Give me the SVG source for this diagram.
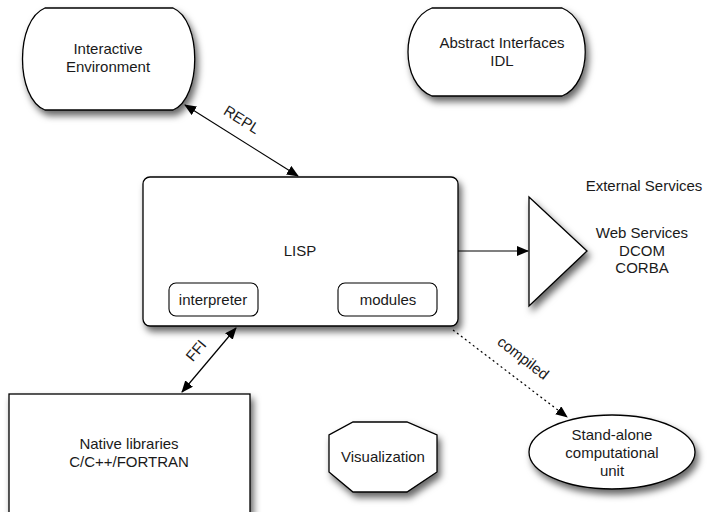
<svg xmlns="http://www.w3.org/2000/svg" width="710" height="512" viewBox="0 0 710 512">
<defs>
<filter id="sh" x="-20%" y="-20%" width="150%" height="150%">
<feDropShadow dx="3" dy="5" stdDeviation="3.5" flood-color="#000" flood-opacity="0.6"/>
</filter>
<marker id="ah" viewBox="0 0 12 10" refX="11" refY="5" markerWidth="12" markerHeight="10" markerUnits="userSpaceOnUse" orient="auto-start-reverse">
<path d="M0,0 L12,5 L0,10 Z" fill="#000"/>
</marker>
<style>
.s{fill:#fff;stroke:#000;stroke-width:1.3;filter:url(#sh)}
.n{fill:#fff;stroke:#000;stroke-width:1.1}
.t{font-family:"Liberation Sans",Arial,sans-serif;font-size:15px;fill:#1a1a1a;text-anchor:middle}
.c{fill:none;stroke:#000;stroke-width:1.2}
</style>
</defs>
<g id="interactive">
<path class="s" d="M45,8 H173 C202,20 202,98 173,110 H45 C15,98 15,20 45,8 Z"/>
<text class="t" x="108" y="54">Interactive</text>
<text class="t" x="108" y="72">Environment</text>
</g>
<g id="abstract">
<path class="s" d="M432,8 H562 C593,20 593,84 562,96 H432 C400,84 400,20 432,8 Z"/>
<text class="t" x="502" y="48">Abstract Interfaces</text>
<text class="t" x="502" y="66">IDL</text>
</g>
<g id="lisp">
<rect class="s" x="143" y="177" width="315" height="149" rx="7"/>
<text class="t" x="300" y="256">LISP</text>
</g>
<g id="interpreter">
<rect class="n" x="169" y="283" width="89" height="33" rx="7"/>
<text class="t" x="213" y="305">interpreter</text>
</g>
<g id="modules">
<rect class="n" x="338" y="283" width="99" height="33" rx="7"/>
<text class="t" x="388" y="305">modules</text>
</g>
<g id="external">
<path class="s" d="M529,197 L587,251 L529,306 Z"/>
<text class="t" x="644" y="191">External Services</text>
<text class="t" x="642" y="238">Web Services</text>
<text class="t" x="642" y="256">DCOM</text>
<text class="t" x="642" y="273">CORBA</text>
</g>
<g id="native">
<rect class="s" x="9" y="394" width="241" height="130"/>
<text class="t" x="129" y="449">Native libraries</text>
<text class="t" x="129" y="467">C/C++/FORTRAN</text>
</g>
<g id="visualization">
<path class="s" d="M353,422 H407 L437,435 V472 L407,492 H353 L329,472 V435 Z"/>
<text class="t" x="383" y="462">Visualization</text>
</g>
<g id="standalone">
<ellipse class="s" cx="612" cy="452" rx="83" ry="37"/>
<text class="t" x="612" y="440">Stand-alone</text>
<text class="t" x="612" y="458">computational</text>
<text class="t" x="612" y="476">unit</text>
</g>
<g id="connectors">
<line class="c" x1="185" y1="105" x2="298" y2="176" marker-start="url(#ah)" marker-end="url(#ah)"/>
<text class="t" x="239" y="124" transform="rotate(32 239 124)">REPL</text>
<line class="c" x1="458" y1="251" x2="528" y2="251" marker-end="url(#ah)"/>
<line class="c" x1="236" y1="328" x2="182" y2="392" marker-start="url(#ah)" marker-end="url(#ah)"/>
<text class="t" x="200" y="354" transform="rotate(-50 200 354)">FFI</text>
<line class="c" x1="453" y1="330" x2="567" y2="417" stroke-dasharray="2,3" marker-end="url(#ah)"/>
<text class="t" x="520" y="362" transform="rotate(37.7 520 362)">compiled</text>
</g>
</svg>
